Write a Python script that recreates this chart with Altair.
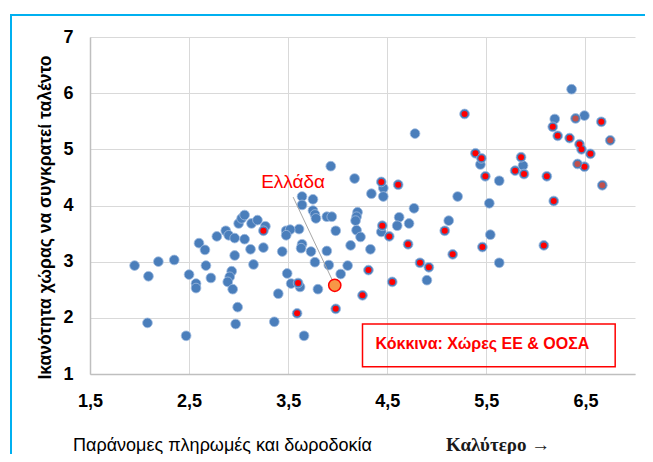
import altair as alt
import pandas as pd

# ---- data ----
blue_x = [1.95, 2.09, 2.19, 2.35, 2.08, 2.47, 2.50, 2.57, 2.57, 2.60,
          2.66, 2.67, 2.72, 2.78, 2.87, 2.90, 2.96, 3.06, 3.00, 3.03,
          3.06, 3.13, 3.19, 3.27, 3.12, 3.25, 2.96, 3.15, 2.93, 2.91,
          2.89, 2.94, 2.99, 2.97, 3.36, 3.40, 3.44, 3.49, 3.53, 3.66,
          3.80, 3.77, 3.73, 3.64, 3.63, 3.61, 3.48, 3.52, 3.48, 3.64,
          3.64, 3.75, 3.75, 3.77, 3.78, 3.89, 3.94, 3.98, 3.93, 4.17,
          4.20, 4.19, 4.18, 4.19, 4.23, 4.13, 3.89, 3.91, 4.10, 4.03,
          4.34, 4.46, 4.46, 4.44, 4.33, 4.77, 4.62, 4.60, 4.72, 4.90,
          4.78, 5.21, 5.12, 5.54, 5.63, 5.44, 5.53, 5.63, 5.87, 6.36,
          6.19, 6.49, 3.62]
blue_y = [2.93, 2.74, 3.00, 3.03, 1.91, 1.68, 2.77, 2.61, 2.53, 3.33,
          3.21, 2.93, 2.71, 3.45, 3.55, 3.47, 3.42, 3.40, 3.68, 3.77,
          3.83, 3.68, 3.74, 3.63, 3.22, 3.25, 3.11, 2.95, 2.83, 2.73,
          2.64, 2.51, 2.19, 1.89, 1.93, 2.43, 3.18, 2.79, 2.61, 1.68,
          2.51, 2.99, 3.18, 3.31, 3.24, 3.58, 3.55, 3.57, 3.47, 4.16,
          4.01, 4.11, 3.91, 3.84, 3.77, 3.80, 3.80, 3.55, 4.70, 4.48,
          3.88, 3.80, 3.73, 3.56, 3.44, 3.29, 3.19, 2.94, 2.93, 2.78,
          4.21, 4.31, 4.16, 3.53, 3.22, 3.95, 3.79, 3.64, 3.68, 2.67,
          5.28, 4.16, 3.73, 3.48, 2.98, 4.73, 4.04, 4.44, 4.71, 6.07,
          5.54, 5.60, 2.55]

# EU & OECD countries (red centre)
red_x = [3.25, 3.60, 3.59, 3.98, 4.25, 4.31, 4.44, 4.61, 4.45, 4.52,
         4.71, 4.55, 4.83, 4.92, 5.08, 5.16, 5.46, 5.28, 5.39, 5.45,
         5.49, 5.85, 5.79, 5.88, 6.11, 6.18, 6.08, 6.17, 6.22, 6.34,
         6.44, 6.46, 6.55, 6.66, 6.49]
red_y = [3.55, 2.62, 2.08, 2.16, 2.40, 2.85, 4.42, 4.37, 3.64, 3.45,
         3.31, 2.64, 2.98, 2.90, 3.55, 3.13, 3.26, 5.63, 4.93, 4.84,
         4.52, 4.86, 4.62, 4.56, 4.52, 4.08, 3.29, 5.40, 5.24, 5.20,
         5.09, 5.00, 4.92, 5.49, 4.69]

# darker red centres
brown_x = [6.40, 6.75, 6.42, 6.67]
brown_y = [5.55, 5.16, 4.74, 4.36]

greece_x = [3.97]
greece_y = [2.58]

x_ticks = [1.5, 2.5, 3.5, 4.5, 5.5, 6.5]
y_ticks = [1, 2, 3, 4, 5, 6, 7]

greece_label = "Ελλάδα"
label_pos = [3.55, 4.42]
leader = [3.55, 4.15, 3.97, 2.58]
note_text = "Κόκκινα: Χώρες ΕΕ & ΟΟΣΑ"
note_box = [4.25, 6.80, 1.13, 1.89]
note_pos = [5.46, 1.54]
x_title = "Παράνομες πληρωμές και δωροδοκία"
y_title = "Ικανότητα χώρας να συγκρατεί ταλέντο"
better = "Καλύτερο →"

# ---- tables ----
df = pd.concat([
    pd.DataFrame({"x": blue_x, "y": blue_y, "g": "blue"}),
    pd.DataFrame({"x": red_x, "y": red_y, "g": "red"}),
    pd.DataFrame({"x": brown_x, "y": brown_y, "g": "brown"}),
], ignore_index=True)
gr = pd.DataFrame({"x": greece_x, "y": greece_y})
one = pd.DataFrame({"a": [0]})
lab = pd.DataFrame({"x": [label_pos[0]], "y": [label_pos[1]], "t": [greece_label]})
lead = pd.DataFrame({"x": [leader[0]], "y": [leader[1]], "x2": [leader[2]], "y2": [leader[3]]})
box = pd.DataFrame({"x": [note_box[0]], "x2": [note_box[1]], "y": [note_box[2]], "y2": [note_box[3]]})
note = pd.DataFrame({"x": [note_pos[0]], "y": [note_pos[1]], "t": [note_text]})

SANS = "Liberation Sans, Arial, sans-serif"
BLUE = "#4a7ebb"

xs = alt.Scale(domain=[1.5, 7.0], nice=False, zero=False)
ys = alt.Scale(domain=[1, 7], nice=False, zero=False)

x_axis = alt.Axis(values=x_ticks, title=x_title, ticks=False,
                  labelExpr="replace(format(datum.value, '.1f'), '.', ',')",
                  labelFlush=False, labelAlign="center",
                  labelPadding=18, titleX=132, titleY=71, titleAlign="center",
                  titleBaseline="middle", titleFontWeight="normal", titleFontSize=18,
                  titleFont=SANS, titleColor="black")
y_axis = alt.Axis(values=y_ticks, title=y_title, ticks=False, format="d",
                  labelFlush=False,
                  labelPadding=17, titleX=-45, titleY=180, titleAngle=-90,
                  titleAlign="center", titleBaseline="middle",
                  titleFontWeight="bold", titleFontSize=17.5, titleFont=SANS,
                  titleColor="black")

X = alt.X("x:Q", scale=xs)
Y = alt.Y("y:Q", scale=ys)

frame = alt.Chart(one).mark_rect(fill="white", fillOpacity=0, stroke="#00b0f0",
                                 strokeWidth=2).encode(
    x=alt.value(-79), x2=alt.value(700), y=alt.value(-22), y2=alt.value(520))

pts = alt.Chart(df).mark_circle(size=95, color=BLUE, opacity=1,
                                stroke="#9fbbe0", strokeWidth=0.8).encode(
    x=alt.X("x:Q", scale=xs, axis=x_axis),
    y=alt.Y("y:Q", scale=ys, axis=y_axis))

red = alt.Chart(df).transform_filter(alt.datum.g == "red").mark_circle(
    size=36, color="#ff0000", opacity=1).encode(x=X, y=Y)

brown = alt.Chart(df).transform_filter(alt.datum.g == "brown").mark_circle(
    size=36, color="#c0504d", opacity=1).encode(x=X, y=Y)

line = alt.Chart(lead).mark_rule(color="#a6a6a6", strokeWidth=1).encode(
    x=X, y=Y, x2="x2:Q", y2="y2:Q")

greece = alt.Chart(gr).mark_circle(size=150, color="#f79646", opacity=1,
                                   stroke="#ff0000", strokeWidth=1.5).encode(x=X, y=Y)

glab = alt.Chart(lab).mark_text(font=SANS, fontSize=19, color="#ff0000",
                                align="center", baseline="middle").encode(
    x=X, y=Y, text="t:N")

nbox = alt.Chart(box).mark_rect(fill="white", fillOpacity=0, stroke="#ff0000",
                                strokeWidth=1.5).encode(
    x=X, x2="x2:Q", y=Y, y2="y2:Q")

ntext = alt.Chart(note).mark_text(font=SANS, fontSize=16, fontWeight="bold",
                                  color="#ff0000", align="center",
                                  baseline="middle").encode(
    x=X, y=Y, text="t:N")

btext = alt.Chart(one).mark_text(font="Liberation Serif, DejaVu Serif, serif",
                                 fontSize=19, fontWeight="bold", color="#1a1a1a",
                                 align="left", baseline="middle").encode(
    x=alt.value(356), y=alt.value(408), text=alt.value(better))

chart = alt.layer(pts, frame, nbox, line, red, brown, greece, glab, ntext, btext).properties(
    width=545, height=337,
    padding={"left": 82, "top": 29, "right": 10, "bottom": 80},
    autosize=alt.AutoSizeParams(type="none"),
).configure_axis(
    labelFont=SANS, labelFontSize=18, labelFontWeight="bold", labelColor="black",
    gridColor="#d9d9d9", gridWidth=1, domainColor="#bfbfbf", domainWidth=1.5,
).configure_view(strokeWidth=0)

chart.save("out.html", embed_options={"renderer": "svg", "actions": False})
